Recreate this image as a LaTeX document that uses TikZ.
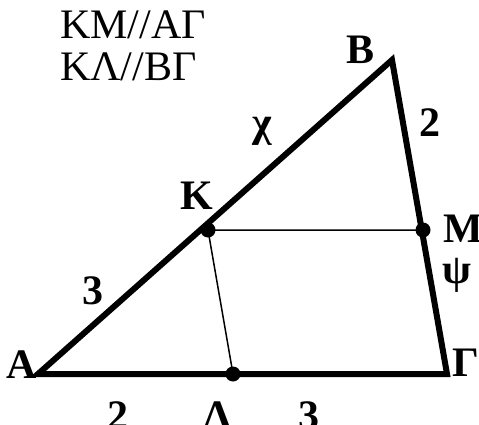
\documentclass[tikz,border=0pt]{standalone}
\usepackage{fontspec}
\setmainfont{Liberation Serif}
\begin{document}
\begin{tikzpicture}[x=1pt,y=-1pt,every node/.style={font=\fontsize{42}{44}\selectfont,inner sep=0pt},
  lbl/.style={font=\fontsize{42}{44}\selectfont\bfseries,anchor=base},
  dot/.style={circle,fill,minimum size=15pt}]
\useasboundingbox (0,0) rectangle (479,425);
\coordinate (A) at (38,374);
\coordinate (B) at (392,60);
\coordinate (G) at (447,374);
\node[dot] (K) at (208,230) {};
\node[dot] (M) at (423,230) {};
\node[dot] (L) at (233,374) {};
\draw[line width=6pt,line join=miter] (A)--(B)--(G)--cycle;
\draw[line width=1.5pt] (K.center)--(M.center) (K.center)--(L.center);
% given
\node[anchor=base west] (t1) at (60,39) {ΚΜ//ΑΓ};
\node[anchor=base west] (t2) at (60,81) {ΚΛ//ΒΓ};
% vertices and points
\node[lbl] (nA) at (22,378) {Α};
\node[lbl] (nB) at (361,64) {Β};
\node[lbl,anchor=base west] (nG) at (452,376) {Γ};
\node[lbl] (nK) at (197,209) {Κ};
\node[lbl,anchor=base west] (nM) at (443,242) {Μ};
\node[lbl] (nL) at (218,429) {Λ};
% lengths
\node[lbl] (x) at (262,137) {χ};
\node[lbl] (y) at (457,283) {ψ};
\node[lbl] (ak) at (93,304) {3};
\node[lbl] (bm) at (430,137) {2};
\node[lbl] (al) at (118,429) {2};
\node[lbl] (lg) at (309,429) {3};
\end{tikzpicture}
\end{document}
